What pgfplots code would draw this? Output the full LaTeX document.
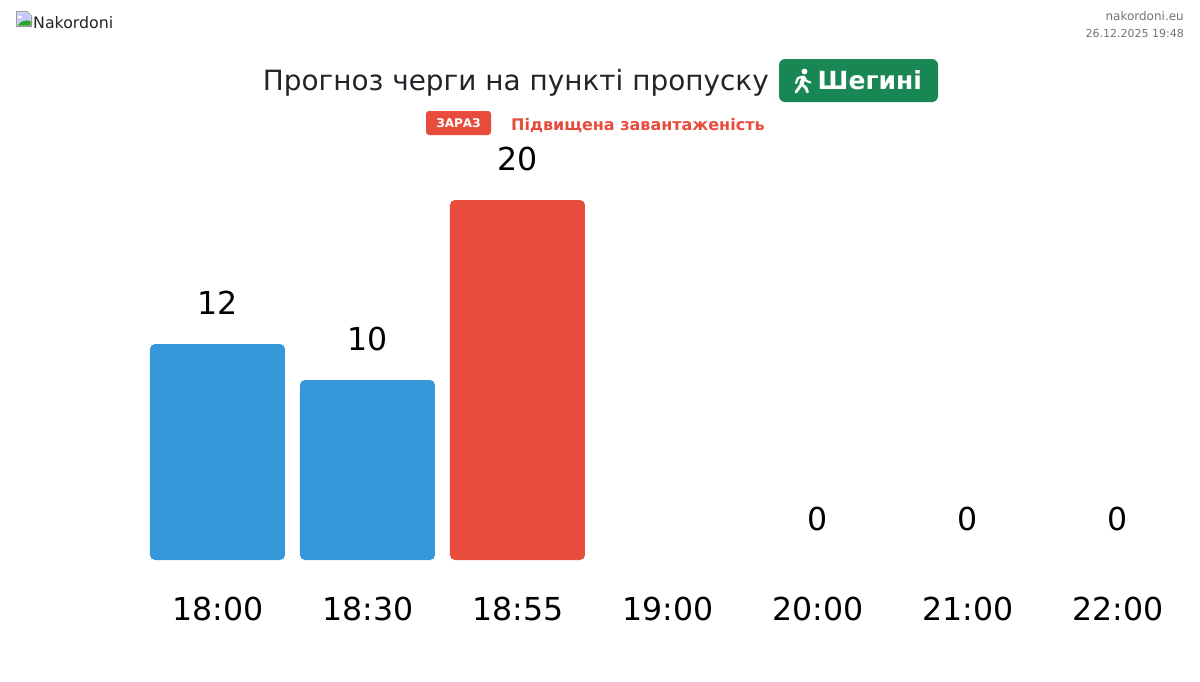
\documentclass[border=0pt]{standalone}
\usepackage{fontspec}
\setmainfont{DejaVu Sans}
\usepackage{pgfplots}
\pgfplotsset{compat=1.18}
\definecolor{barblue}{HTML}{3498DB}
\definecolor{barred}{HTML}{E74C3C}
\definecolor{badgegreen}{HTML}{198754}
\definecolor{darktext}{HTML}{212529}
\definecolor{graytext}{HTML}{6C757D}
\newcommand{\fs}[1]{\fontsize{#1}{#1}\selectfont}
\begin{document}
\begin{tikzpicture}[x=1pt,y=1pt]
\path[use as bounding box] (0,0) rectangle (1200,-681);
% header
\node[anchor=base west,inner sep=0pt,text=darktext] at (33,-28) {\fs{15.8}Nakordoni};
\draw[gray!80,fill=gray!8,line width=1pt] (16.5,-11.5) -- (27,-11.5) -- (31.5,-16) -- (31.5,-26.5) -- (16.5,-26.5) -- cycle;
\fill[blue!22] (17.5,-12.5) -- (26.5,-12.5) -- (30.5,-16.5) -- (30.5,-25.5) -- (17.5,-25.5) -- cycle;
\fill[white] (20,-17) ellipse (2 and 1.2);
\fill[green!60!black!85] (17.5,-25.5) .. controls (21,-21) and (26,-19.5) .. (30.5,-21) -- (30.5,-25.5) -- cycle;
\node[anchor=base east,inner sep=0pt,text=graytext] at (1184,-20) {\fs{12}nakordoni.eu};
\node[anchor=base east,inner sep=0pt,text=graytext] at (1184,-37) {\fs{11}26.12.2025 19:48};
% title
\node[anchor=base west,inner sep=0pt,text=darktext] at (262.7,-90.3) {\fs{27.9}Прогноз черги на пункті пропуску};
\fill[badgegreen,rounded corners=6pt] (779,-59) rectangle (938,-102);
\node[anchor=base west,inner sep=0pt,text=white] at (817.5,-89.3) {\fs{25}\bfseries Шегині};
% walking figure
\fill[white] (804.5,-71.5) circle (2.9);
\draw[white,line width=4.2pt,line cap=round] (803.5,-78) -- (801.5,-84);
\draw[white,line width=2.8pt,line cap=round,line join=round] (801.5,-84) -- (806,-88) -- (807.5,-92);
\draw[white,line width=2.8pt,line cap=round] (801,-85) -- (796,-92);
\draw[white,line width=2.2pt,line cap=round,line join=round] (803,-76.5) -- (798,-78) -- (796,-83);
\draw[white,line width=2.2pt,line cap=round,line join=round] (804,-77) -- (806.5,-81) -- (810.5,-82.5);
% status
\fill[barred,rounded corners=3pt] (426,-111) rectangle (491,-135);
\node[anchor=base,inner sep=0pt,text=white] at (458.5,-127) {\fs{12}\bfseries ЗАРАЗ};
\node[anchor=base west,inner sep=0pt,text=barred] at (511,-130) {\fs{16}\bfseries Підвищена завантаженість};
\begin{axis}[
  at={(142.5pt,-560pt)},anchor=south west,
  scale only axis,width=1050pt,height=360pt,
  xmin=-0.5,xmax=6.5,ymin=0,ymax=20,
  axis line style={draw=none},
  clip=false,
  major tick length=0pt,
  xtick={0,1,2,3,4,5,6},
  xticklabels={18:00,18:30,18:55,19:00,20:00,21:00,22:00},
  ytick=\empty,
  xticklabel style={font=\fs{31.6},anchor=base,yshift=-60pt,xshift=0.5pt,inner sep=0pt,text=black},
  /pgf/number format/assume math mode=true,
  ybar,bar width=135pt,bar shift=0pt,
  nodes near coords,
  nodes near coords style={font=\fs{31.6},anchor=base,yshift=30pt,xshift=0.5pt,inner sep=0pt,text=black},
]
\addplot[fill=barblue,draw=none,rounded corners=5pt] coordinates {(0,12) (1,10)};
\addplot[fill=barred,draw=none,rounded corners=5pt] coordinates {(2,20)};
\addplot[fill=none,draw=none] coordinates {(4,0) (5,0) (6,0)};
\end{axis}
\end{tikzpicture}
\end{document}
